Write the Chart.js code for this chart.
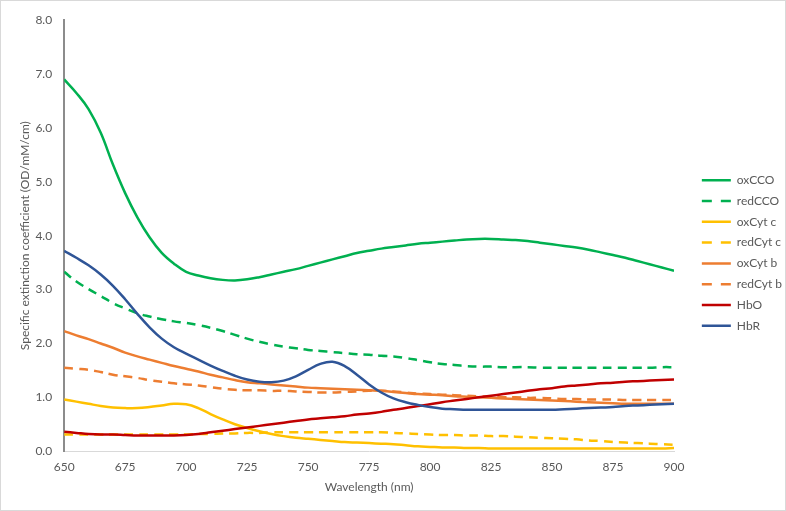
<!DOCTYPE html>
<html><head><meta charset="utf-8">
<script src="https://cdn.jsdelivr.net/npm/chart.js@4/dist/chart.umd.min.js"></script>
<style>
html,body{margin:0;padding:0;background:#fff;}
#wrap{width:786px;height:511px;box-sizing:border-box;border:1px solid #d9d9d9;position:relative;}
canvas{display:block;}
</style></head><body>
<div id="wrap"><canvas id="c" width="784" height="509"></canvas></div>
<script>
const wavelengths = [650,655,660,665,670,675,680,685,690,695,700,705,710,715,720,725,730,735,740,745,750,755,760,765,770,775,780,785,790,795,800,805,810,815,820,825,830,835,840,845,850,855,860,865,870,875,880,885,890,895,900];
const oxCCO = [6.90,6.65,6.35,5.91,5.32,4.79,4.34,3.97,3.68,3.48,3.33,3.26,3.21,3.18,3.17,3.19,3.23,3.28,3.33,3.38,3.44,3.50,3.56,3.62,3.68,3.72,3.76,3.79,3.82,3.85,3.87,3.89,3.91,3.93,3.94,3.94,3.93,3.92,3.90,3.87,3.84,3.81,3.78,3.74,3.69,3.64,3.59,3.53,3.47,3.41,3.35];
const redCCO = [3.33,3.15,3.01,2.88,2.75,2.65,2.56,2.50,2.45,2.41,2.38,2.34,2.29,2.23,2.16,2.09,2.03,1.98,1.94,1.91,1.88,1.86,1.84,1.82,1.80,1.79,1.77,1.76,1.73,1.69,1.65,1.62,1.60,1.58,1.57,1.57,1.56,1.56,1.56,1.55,1.55,1.55,1.55,1.55,1.55,1.55,1.55,1.55,1.55,1.56,1.56];
const oxCytC = [0.96,0.92,0.88,0.84,0.81,0.80,0.80,0.82,0.85,0.88,0.87,0.80,0.69,0.59,0.50,0.43,0.37,0.32,0.28,0.25,0.23,0.21,0.19,0.17,0.16,0.15,0.14,0.13,0.11,0.09,0.08,0.07,0.07,0.06,0.06,0.05,0.05,0.05,0.05,0.05,0.05,0.05,0.05,0.05,0.05,0.05,0.05,0.05,0.05,0.05,0.06];
const redCytC = [0.31,0.31,0.31,0.31,0.31,0.31,0.31,0.31,0.31,0.31,0.31,0.32,0.32,0.33,0.33,0.34,0.34,0.35,0.35,0.35,0.35,0.35,0.35,0.35,0.35,0.35,0.35,0.34,0.33,0.32,0.31,0.30,0.30,0.29,0.29,0.28,0.28,0.27,0.26,0.25,0.24,0.23,0.22,0.20,0.19,0.17,0.16,0.15,0.14,0.13,0.12];
const oxCytB = [2.23,2.15,2.08,2.00,1.92,1.83,1.76,1.70,1.64,1.58,1.53,1.48,1.42,1.37,1.32,1.28,1.26,1.24,1.22,1.20,1.18,1.17,1.16,1.15,1.14,1.13,1.12,1.10,1.08,1.06,1.05,1.04,1.02,1.01,1.00,0.99,0.98,0.97,0.96,0.95,0.94,0.93,0.92,0.91,0.90,0.89,0.88,0.88,0.88,0.88,0.88];
const redCytB = [1.55,1.53,1.51,1.47,1.42,1.39,1.36,1.32,1.29,1.26,1.24,1.22,1.19,1.16,1.14,1.13,1.13,1.12,1.12,1.11,1.10,1.09,1.09,1.10,1.11,1.12,1.12,1.11,1.09,1.07,1.06,1.05,1.04,1.03,1.02,1.01,1.00,1.00,0.99,0.99,0.98,0.97,0.97,0.96,0.96,0.96,0.95,0.95,0.95,0.95,0.95];
const HbO = [0.36,0.34,0.32,0.31,0.31,0.30,0.29,0.29,0.29,0.29,0.30,0.32,0.35,0.38,0.41,0.44,0.47,0.50,0.53,0.56,0.59,0.61,0.63,0.65,0.68,0.70,0.73,0.77,0.80,0.84,0.87,0.91,0.94,0.97,1.00,1.03,1.06,1.09,1.12,1.15,1.17,1.20,1.22,1.24,1.26,1.27,1.29,1.30,1.31,1.32,1.33];
const HbR = [3.72,3.59,3.45,3.28,3.07,2.82,2.55,2.30,2.09,1.93,1.81,1.70,1.59,1.49,1.40,1.33,1.29,1.28,1.31,1.39,1.51,1.62,1.66,1.58,1.42,1.24,1.09,0.98,0.91,0.86,0.82,0.79,0.78,0.77,0.77,0.77,0.77,0.77,0.77,0.77,0.77,0.78,0.79,0.80,0.81,0.82,0.84,0.85,0.86,0.87,0.88];
const xTicks = [650,675,700,725,750,775,800,825,850,875,900];
const yTicks = [0,1,2,3,4,5,6,7,8];

const seriesNames = ['oxCCO','redCCO','oxCyt c','redCyt c','oxCyt b','redCyt b','HbO','HbR'];
const seriesData = [oxCCO, redCCO, oxCytC, redCytC, oxCytB, redCytB, HbO, HbR];
const seriesColors = ['#00B050','#00B050','#FFC000','#FFC000','#ED7D31','#ED7D31','#C00000','#2F5597'];
const seriesDashed = [false,true,false,true,false,true,false,false];

const datasets = seriesNames.map((name,i)=>({
  label: name,
  data: wavelengths.map((w,j)=>({x:w,y:seriesData[i][j]})),
  borderColor: seriesColors[i],
  backgroundColor: seriesColors[i],
  borderWidth: 2.5,
  borderDash: seriesDashed[i] ? [9,6] : [],
  pointRadius: 0,
  tension: 0.4,
  fill: false,
  order: seriesNames.length - i
}));

const gray = '#595959';
const fontFam = 'Lato, "Open Sans", sans-serif';

const legendShift = {
  id: 'legendShift',
  afterLayout(chart) {
    const lg = chart.legend;
    if (!lg) return;
    lg.left += 19; lg.right += 19;
    lg.top += 3.5; lg.bottom += 3.5;
  }
};

new Chart(document.getElementById('c'), {
  type: 'line',
  data: { datasets },
  plugins: [legendShift],
  options: {
    responsive: false,
    animation: false,
    layout: { padding: { left: 12, right: 12, top: 4, bottom: 16 } },
    plugins: {
      tooltip: { enabled: false },
      legend: {
        position: 'right',
        align: 'center',
        labels: {
          usePointStyle: true,
          pointStyle: 'line',
          pointStyleWidth: 29,
          boxHeight: 12,
          padding: 8.8,
          color: gray,
          font: { family: fontFam, size: 12 },
          generateLabels: (chart) => {
            const items = Chart.defaults.plugins.legend.labels.generateLabels(chart);
            items.forEach(it => {
              const ds = chart.data.datasets[it.datasetIndex];
              it.lineDash = seriesDashed[it.datasetIndex] ? [10,9] : [];
              it.strokeStyle = ds.borderColor;
              it.fillStyle = ds.borderColor;
              it.lineWidth = 2.5;
            });
            return items.sort((a,b)=>a.datasetIndex-b.datasetIndex);
          }
        }
      }
    },
    scales: {
      x: {
        type: 'linear',
        min: 650, max: 900,
        afterBuildTicks: (ax)=>{ ax.ticks = xTicks.map(v=>({value:v})); },
        afterFit: (ax)=>{ ax.height -= 8; },
        grid: { display: false, drawTicks: false },
        border: { display: true, color: '#d9d9d9', width: 1 },
        ticks: { color: gray, font: { family: fontFam, size: 12 }, padding: 9, maxRotation: 0 },
        title: { display: true, text: 'Wavelength (nm)', color: gray, font: { family: fontFam, size: 12 }, padding: { top: 4, bottom: 0 } }
      },
      y: {
        type: 'linear',
        min: 0, max: 8,
        afterBuildTicks: (ax)=>{ ax.ticks = yTicks.map(v=>({value:v})); },
        afterFit: (ax)=>{ ax.width -= 12; },
        grid: { display: false, drawTicks: false },
        border: { display: true, color: '#8c8c8c', width: 2 },
        ticks: { color: gray, font: { family: fontFam, size: 12 }, padding: 12, callback: v=>Number(v).toFixed(1) },
        title: { display: true, text: 'Specific extinction coefficient (OD/mM/cm)', color: gray, font: { family: fontFam, size: 12 }, padding: { top: 5, bottom: 3 } }
      }
    }
  }
});
</script>
</body></html>
